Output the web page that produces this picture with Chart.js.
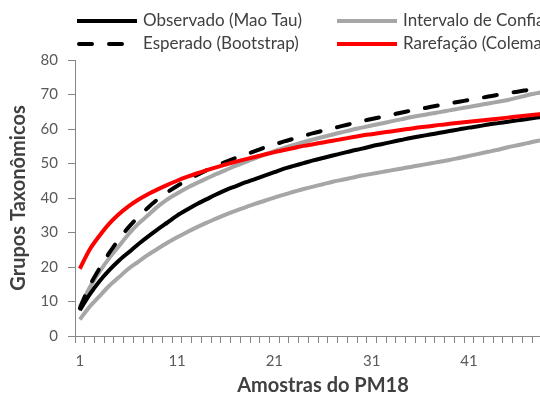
<!DOCTYPE html>
<html>
<head>
<meta charset="utf-8">
<script src="https://cdn.jsdelivr.net/npm/chart.js@4.4.1/dist/chart.umd.min.js"></script>
<style>
  html, body { margin: 0; padding: 0; background: #fff; overflow: hidden; }
  #wrap { width: 600px; height: 398px; }
</style>
</head>
<body>
<div id="wrap"><canvas id="chart" width="600" height="398"></canvas></div>
<script>
// samples 1..51
const categories = ['1','2','3','4','5','6','7','8','9','10','11','12','13','14','15','16','17',
  '18','19','20','21','22','23','24','25','26','27','28','29','30','31','32','33','34',
  '35','36','37','38','39','40','41','42','43','44','45','46','47','48','49','50','51'];

const observado = [7.5, 12, 15.8, 19, 21.8, 24.2, 26.6, 28.8, 30.9, 32.9, 34.9, 36.6, 38.2, 39.6, 41, 42.3, 43.4,
  44.5, 45.5, 46.5, 47.5, 48.5, 49.3, 50.1, 50.9, 51.6, 52.3, 53, 53.7, 54.3, 55, 55.6, 56.2, 56.8,
  57.4, 57.9, 58.4, 58.9, 59.4, 59.9, 60.4, 60.8, 61.3, 61.7, 62.1, 62.5, 62.9, 63.3, 63.7, 64.1, 64.5];

const icSuperior = [8.5, 14, 18.5, 22.5, 26, 29.5, 32.5, 35, 37.5, 39.6, 41.3, 42.9, 44.3, 45.6, 46.9, 48.1, 49.3,
  50.4, 51.5, 52.6, 53.6, 54.5, 55.4, 56.2, 57, 57.7, 58.4, 59.1, 59.8, 60.4, 61, 61.6, 62.2, 62.8,
  63.4, 63.9, 64.4, 64.9, 65.4, 65.9, 66.4, 66.9, 67.4, 67.9, 68.4, 69.1, 69.8, 70.4, 71, 71.4, 71.8];

const icInferior = [4.8, 8.5, 11.5, 14.5, 17, 19.5, 21.5, 23.5, 25.3, 27, 28.6, 30.1, 31.5, 32.8, 34, 35.2, 36.3,
  37.3, 38.3, 39.2, 40.1, 41, 41.8, 42.6, 43.3, 44, 44.7, 45.3, 45.9, 46.5, 47, 47.5, 48, 48.5,
  49, 49.5, 50, 50.5, 51, 51.6, 52.2, 52.8, 53.4, 54, 54.7, 55.3, 55.9, 56.5, 57, 57.4, 57.8];

const esperado = [8, 14.5, 19.5, 24, 28, 31.5, 34.5, 37.2, 39.6, 41.7, 43.5, 45.1, 46.6, 48, 49.3, 50.5, 51.6,
  52.6, 53.6, 54.6, 55.5, 56.4, 57.2, 58, 58.8, 59.5, 60.2, 60.9, 61.6, 62.3, 62.9, 63.5, 64.1, 64.7,
  65.3, 65.8, 66.4, 66.9, 67.4, 67.9, 68.4, 68.9, 69.4, 69.9, 70.4, 70.8, 71.3, 71.8, 72.2, 72.6, 73];

const rarefacao = [19.5, 25, 29, 32.5, 35.3, 37.6, 39.5, 41.1, 42.5, 43.8, 45, 46.1, 47.1, 48, 48.9, 49.7, 50.5,
  51.2, 51.9, 52.6, 53.3, 53.9, 54.5, 55.1, 55.6, 56.1, 56.6, 57.1, 57.6, 58.1, 58.5, 58.9, 59.3, 59.7,
  60.1, 60.5, 60.8, 61.2, 61.5, 61.8, 62.1, 62.4, 62.7, 63, 63.3, 63.6, 63.9, 64.2, 64.5, 64.8, 65];

const FONT = 'Lato, "Open Sans", sans-serif';

// legend drawn by hand: 2 x 2 grid like the Excel legend
const gridLegend = {
  id: 'gridLegend',
  afterDraw(chart) {
    const ctx = chart.ctx;
    const cols = [77, 337];
    const rows = [21, 44];
    let k = 0;
    chart.data.datasets.forEach(ds => {
      if (ds.hideInLegend) return;
      const x = cols[k % 2], y = rows[Math.floor(k / 2)];
      ctx.save();
      ctx.strokeStyle = ds.borderColor;
      ctx.lineWidth = ds.borderWidth;
      ctx.lineCap = ds.borderDash ? 'round' : 'butt';
      ctx.setLineDash(ds.borderDash || []);
      ctx.beginPath();
      ctx.moveTo(ds.borderDash ? x + 2 : x, y);
      ctx.lineTo(x + 60, y);
      ctx.stroke();
      ctx.setLineDash([]);
      ctx.fillStyle = '#404040';
      ctx.font = '17px ' + FONT;
      ctx.textBaseline = 'middle';
      ctx.fillText(ds.label, x + 66, y);
      ctx.restore();
      k++;
    });
  }
};

new Chart(document.getElementById('chart'), {
  type: 'line',
  data: {
    labels: categories,
    datasets: [
      { label: 'Observado (Mao Tau)', data: observado, borderColor: '#000000', borderWidth: 4, order: 3 },
      { label: 'Intervalo de Confiança (95%)', data: icSuperior, borderColor: '#A6A6A6', borderWidth: 4, order: 5 },
      { label: 'Esperado (Bootstrap)', data: esperado, borderColor: '#000000', borderWidth: 4,
        borderDash: [13, 17], borderCapStyle: 'round', order: 2 },
      { label: 'Rarefação (Coleman)', data: rarefacao, borderColor: '#FF0000', borderWidth: 4, order: 1 },
      { label: 'IC inferior', data: icInferior, borderColor: '#A6A6A6', borderWidth: 4, order: 4, hideInLegend: true }
    ]
  },
  options: {
    responsive: false,
    animation: false,
    events: [],
    layout: { padding: { top: 60, right: 29, left: 0, bottom: 0 } },
    elements: {
      point: { radius: 0 },
      line: { tension: 0.3, fill: false }
    },
    plugins: {
      legend: { display: false },
      tooltip: { enabled: false }
    },
    scales: {
      x: {
        type: 'category',
        offset: true,
        afterFit(scale) { scale.height = 62; },
        grid: { offset: true, drawOnChartArea: false, tickLength: 7, color: '#868686', tickWidth: 1 },
        border: { color: '#868686', width: 1 },
        ticks: {
          autoSkip: false, maxRotation: 0, padding: 9,
          color: '#595959', font: { family: FONT, size: 15 },
          callback: (v, i) => (i % 10 === 0 ? categories[i] : '')
        },
        title: {
          display: true, text: 'Amostras do PM18', color: '#404040',
          font: { family: FONT, size: 20, weight: 'bold' }, padding: { top: 2, bottom: 0 }
        }
      },
      y: {
        min: 0, max: 80,
        afterFit(scale) { scale.width = 75; },
        grid: { drawOnChartArea: false, tickLength: 7, color: '#868686' },
        border: { color: '#868686', width: 1 },
        ticks: { stepSize: 10, padding: 10, color: '#595959', font: { family: FONT, size: 15 } },
        title: {
          display: true, text: 'Grupos Taxonômicos', color: '#404040',
          font: { family: FONT, size: 20, weight: 'bold' }, padding: { top: 7, bottom: 0 }
        }
      }
    }
  },
  plugins: [gridLegend]
});
</script>
</body>
</html>
